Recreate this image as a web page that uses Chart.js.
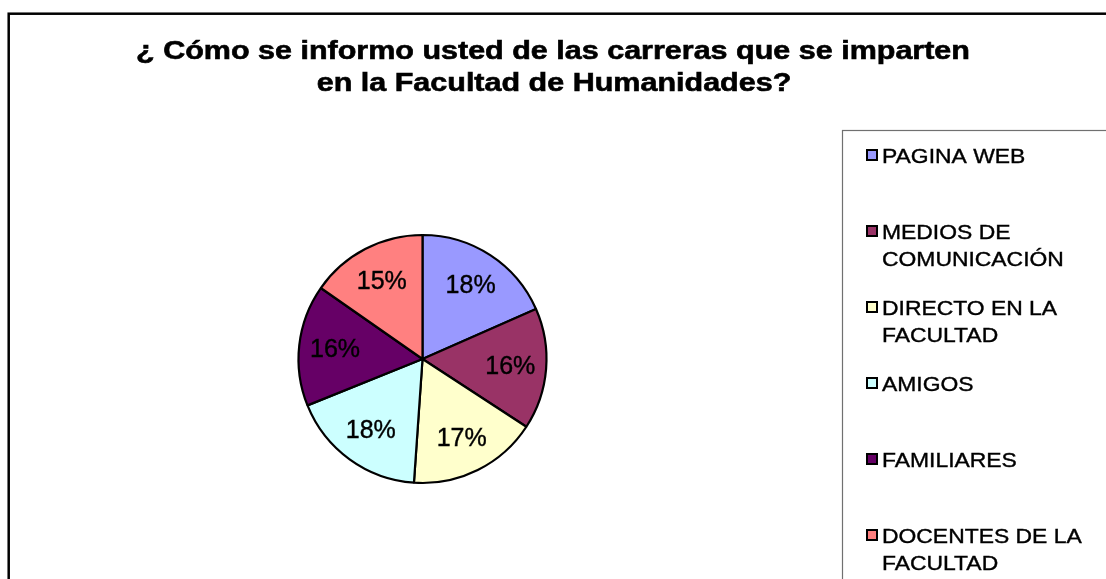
<!DOCTYPE html>
<html>
<head>
<meta charset="utf-8">
<script src="https://cdn.jsdelivr.net/npm/chart.js@4/dist/chart.umd.min.js"></script>
<style>
  html, body { margin: 0; padding: 0; background: #fff; }
  canvas { display: block; }
</style>
</head>
<body>
<canvas id="pie" width="1106" height="579"></canvas>
<script>
const titleLines = ['¿ Cómo se informo usted de las carreras que se imparten', 'en la Facultad de Humanidades?'];
const categories = [
  ['PAGINA WEB'],
  ['MEDIOS DE', 'COMUNICACIÓN'],
  ['DIRECTO EN LA', 'FACULTAD'],
  ['AMIGOS'],
  ['FAMILIARES'],
  ['DOCENTES DE LA', 'FACULTAD']
];
const shares = [18.4, 15.8, 16.9, 17.8, 15.8, 15.3];
const colors = ['#9999FF', '#993366', '#FFFFCC', '#CCFFFF', '#660066', '#FF8080'];

const FONT = '"Liberation Sans", Arial, sans-serif';

// stretched text, the original picture is wider than the font
// a thin stroke makes it as heavy as the original rendering
function wideText(ctx, txt, x, y, sx, align, sw) {
  ctx.save();
  ctx.translate(x, y);
  ctx.scale(sx, 1);
  ctx.textAlign = align;
  ctx.fillText(txt, 0, 0);
  if (sw) {
    ctx.strokeStyle = ctx.fillStyle;
    ctx.lineWidth = sw;
    ctx.strokeText(txt, 0, 0);
  }
  ctx.restore();
}

const decor = {
  id: 'decor',
  afterDraw(chart) {
    const ctx = chart.ctx;
    const meta = chart.getDatasetMeta(0);
    const ds = chart.data.datasets[0];
    const total = ds.data.reduce((a, b) => a + b, 0);

    // percent labels
    ctx.save();
    ctx.fillStyle = '#000';
    ctx.font = '25px ' + FONT;
    ctx.textBaseline = 'middle';
    meta.data.forEach((arc, i) => {
      const mid = (arc.startAngle + arc.endAngle) / 2;
      const r = arc.outerRadius * 0.71;
      const pct = Math.round(ds.data[i] / total * 100) + '%';
      wideText(ctx, pct, arc.x + Math.cos(mid) * r, arc.y + Math.sin(mid) * r + 1, 1, 'center', 0.4);
    });
    ctx.restore();

    // title
    ctx.save();
    ctx.fillStyle = '#000';
    ctx.font = 'bold 25px ' + FONT;
    ctx.textBaseline = 'alphabetic';
    wideText(ctx, titleLines[0], 553, 59, 1.22, 'center', 0.6);
    wideText(ctx, titleLines[1], 554, 91, 1.22, 'center', 0.6);
    ctx.restore();

    // outer border
    ctx.save();
    ctx.strokeStyle = '#000';
    ctx.lineWidth = 2.5;
    ctx.strokeRect(8.7, 13.7, 1200, 700);
    ctx.restore();

    // legend box
    ctx.save();
    ctx.strokeStyle = '#707070';
    ctx.lineWidth = 1.2;
    ctx.strokeRect(842.5, 130.5, 400, 600);
    ctx.font = '21px ' + FONT;
    ctx.textBaseline = 'alphabetic';
    chart.data.labels.forEach((lab, i) => {
      const y0 = 163 + 76 * i;
      ctx.fillStyle = ds.backgroundColor[i];
      ctx.fillRect(867, y0 - 13, 10, 10);
      ctx.strokeStyle = '#000';
      ctx.lineWidth = 2;
      ctx.strokeRect(867, y0 - 13, 10, 10);
      ctx.fillStyle = '#000';
      lab.forEach((line, j) => wideText(ctx, line, 882, y0 + 26.7 * j, 1.09, 'left', 0.4));
    });
    ctx.restore();
  }
};

new Chart(document.getElementById('pie'), {
  type: 'pie',
  data: {
    labels: categories,
    datasets: [{
      data: shares,
      backgroundColor: colors,
      borderColor: '#000',
      borderWidth: 2.2
    }]
  },
  options: {
    responsive: false,
    animation: false,
    devicePixelRatio: 1,
    radius: 124,
    layout: { padding: { left: 298, right: 559, top: 235, bottom: 96 } },
    plugins: {
      legend: { display: false },
      title: { display: false },
      tooltip: { enabled: false }
    }
  },
  plugins: [decor]
});
</script>
</body>
</html>
